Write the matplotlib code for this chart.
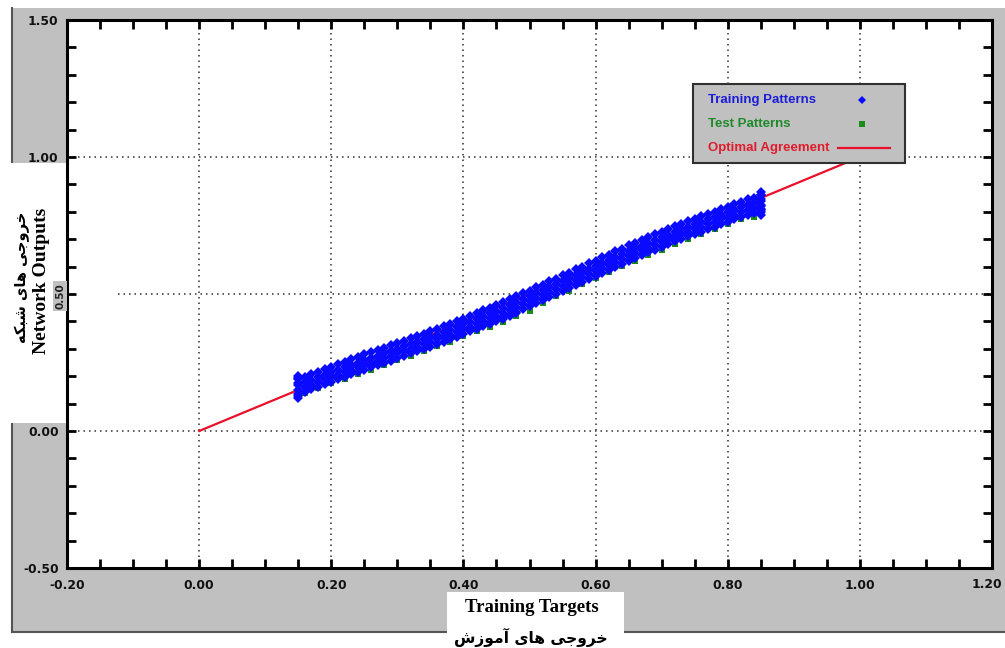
import matplotlib
matplotlib.use('Agg')
import matplotlib.pyplot as plt
from matplotlib.patches import Rectangle
from matplotlib.lines import Line2D
from matplotlib.ticker import MultipleLocator, FixedLocator

# ---------------- data ----------------
train_targets = [0.15, 0.16, 0.17, 0.18, 0.19, 0.20, 0.21, 0.22, 0.23, 0.24,
                 0.25, 0.26, 0.27, 0.28, 0.29, 0.30, 0.31, 0.32, 0.33, 0.34,
                 0.35, 0.36, 0.37, 0.38, 0.39, 0.40, 0.41, 0.42, 0.43, 0.44,
                 0.45, 0.46, 0.47, 0.48, 0.49, 0.50, 0.51, 0.52, 0.53, 0.54,
                 0.55, 0.56, 0.57, 0.58, 0.59, 0.60, 0.61, 0.62, 0.63, 0.64,
                 0.65, 0.66, 0.67, 0.68, 0.69, 0.70, 0.71, 0.72, 0.73, 0.74,
                 0.75, 0.76, 0.77, 0.78, 0.79, 0.80, 0.81, 0.82, 0.83, 0.84,
                 0.85]
train_out_low = [0.134, 0.143, 0.152, 0.162, 0.171, 0.180, 0.189, 0.198, 0.207, 0.215,
                 0.224, 0.232, 0.240, 0.249, 0.257, 0.266, 0.274, 0.283, 0.291, 0.300,
                 0.308, 0.317, 0.326, 0.335, 0.344, 0.354, 0.364, 0.374, 0.384, 0.394,
                 0.404, 0.415, 0.425, 0.436, 0.446, 0.457, 0.468, 0.479, 0.490, 0.501,
                 0.512, 0.523, 0.534, 0.545, 0.556, 0.567, 0.578, 0.589, 0.600, 0.611,
                 0.622, 0.632, 0.642, 0.652, 0.662, 0.672, 0.682, 0.692, 0.701, 0.710,
                 0.719, 0.728, 0.737, 0.746, 0.755, 0.764, 0.773, 0.781, 0.789, 0.797,
                 0.805]
train_out_midlow = [0.151, 0.160, 0.169, 0.179, 0.188, 0.197, 0.206, 0.215, 0.224, 0.232,
                    0.241, 0.249, 0.257, 0.266, 0.274, 0.283, 0.291, 0.300, 0.308, 0.317,
                    0.325, 0.334, 0.343, 0.352, 0.361, 0.371, 0.381, 0.391, 0.401, 0.411,
                    0.421, 0.432, 0.442, 0.453, 0.463, 0.474, 0.485, 0.496, 0.507, 0.518,
                    0.529, 0.540, 0.551, 0.562, 0.573, 0.584, 0.595, 0.606, 0.617, 0.628,
                    0.639, 0.649, 0.659, 0.669, 0.679, 0.689, 0.699, 0.709, 0.718, 0.727,
                    0.736, 0.745, 0.754, 0.763, 0.772, 0.781, 0.790, 0.798, 0.806, 0.814,
                    0.822]
train_out_midhigh = [0.169, 0.178, 0.187, 0.197, 0.206, 0.215, 0.224, 0.233, 0.242, 0.250,
                     0.259, 0.267, 0.275, 0.284, 0.292, 0.301, 0.309, 0.318, 0.326, 0.335,
                     0.343, 0.352, 0.361, 0.370, 0.379, 0.389, 0.399, 0.409, 0.419, 0.429,
                     0.439, 0.450, 0.460, 0.471, 0.481, 0.492, 0.503, 0.514, 0.525, 0.536,
                     0.547, 0.558, 0.569, 0.580, 0.591, 0.602, 0.613, 0.624, 0.635, 0.646,
                     0.657, 0.667, 0.677, 0.687, 0.697, 0.707, 0.717, 0.727, 0.736, 0.745,
                     0.754, 0.763, 0.772, 0.781, 0.790, 0.799, 0.808, 0.816, 0.824, 0.832,
                     0.840]
train_out_high = [0.190, 0.198, 0.208, 0.217, 0.227, 0.235, 0.245, 0.253, 0.263, 0.270,
                  0.280, 0.287, 0.296, 0.304, 0.313, 0.321, 0.330, 0.338, 0.347, 0.355,
                  0.364, 0.372, 0.382, 0.390, 0.400, 0.409, 0.420, 0.429, 0.440, 0.449,
                  0.460, 0.470, 0.481, 0.491, 0.502, 0.512, 0.524, 0.534, 0.546, 0.556,
                  0.568, 0.578, 0.590, 0.600, 0.612, 0.622, 0.634, 0.644, 0.656, 0.666,
                  0.678, 0.687, 0.698, 0.707, 0.718, 0.727, 0.738, 0.747, 0.757, 0.765,
                  0.775, 0.783, 0.793, 0.801, 0.811, 0.819, 0.829, 0.836, 0.845, 0.852,
                  0.861]
extra_train_targets = [0.15, 0.15, 0.15, 0.15, 0.15,
                       0.85, 0.85, 0.85, 0.85, 0.85, 0.85, 0.85,
                       0.44, 0.45, 0.46, 0.47, 0.48]
extra_train_outputs = [0.122, 0.128, 0.176, 0.192, 0.200,
                       0.790, 0.798, 0.812, 0.826, 0.848, 0.862, 0.872,
                       0.392, 0.400, 0.410, 0.420, 0.430]

test_targets = [0.16, 0.18, 0.20, 0.22, 0.24, 0.26, 0.28, 0.30, 0.32, 0.34,
                0.36, 0.38, 0.40, 0.42, 0.44, 0.46, 0.48, 0.50, 0.52, 0.54,
                0.56, 0.58, 0.60, 0.62, 0.64, 0.66, 0.68, 0.70, 0.72, 0.74,
                0.76, 0.78, 0.80, 0.82, 0.84]
test_outputs = [0.138, 0.156, 0.174, 0.191, 0.208, 0.224, 0.241, 0.258, 0.275, 0.292,
                0.309, 0.326, 0.345, 0.364, 0.380, 0.398, 0.418, 0.438, 0.468, 0.492,
                0.512, 0.537, 0.560, 0.582, 0.602, 0.622, 0.642, 0.662, 0.682, 0.700,
                0.718, 0.736, 0.754, 0.772, 0.782]

optimal_x = [0.0, 1.0]
optimal_y = [0.0, 1.0]

x_tick_values = [-0.2, 0.0, 0.2, 0.4, 0.6, 0.8, 1.0, 1.2]
x_tick_labels = ['-0.20', '0.00', '0.20', '0.40', '0.60', '0.80', '1.00', '1.20']
y_tick_values = [-0.5, 0.0, 0.5, 1.0, 1.5]
y_tick_labels = ['-0.50', '0.00', '0.50', '1.00', '1.50']
legend_labels = ['Training Patterns', 'Test Patterns', 'Optimal Agreement']
legend_colors = ['#1c1cd8', '#1f8a2a', '#e01c2c']

# Persian labels (presentation forms, visual order)
xlabel_fa = '\ufeb5\ufeaf\ufeee\ufee3\ufe81 \ufbfc\ufe8e\ufeeb \ufbfd\ufe9f\ufeed\ufeae\ufea7'
ylabel_fa = '\ufeea\ufb91\ufe92\ufeb7 \ufbfc\ufe8e\ufeeb \ufbfd\ufe9f\ufeed\ufeae\ufea7'

# ---------------- figure ----------------
W, H = 1005, 648
fig = plt.figure(figsize=(W / 100, H / 100), dpi=100)
fig.patch.set_facecolor('white')


def fx(px):
    return px / W


def fy(py):
    return 1 - py / H


GRAY = '#c0c0c0'
TICK_FONT = dict(fontfamily='DejaVu Sans', fontweight='bold', fontsize=8.8, color='#111111')

fig.patches.append(Rectangle((fx(12), fy(632)), fx(1005) - fx(12), fy(8) - fy(632),
                             transform=fig.transFigure, facecolor=GRAY,
                             edgecolor='none', zorder=-3))
fig.lines.append(Line2D([fx(12), fx(12)], [fy(632), fy(8)], transform=fig.transFigure,
                        color='#555555', lw=1.5, zorder=-2))
fig.lines.append(Line2D([fx(12), fx(1005)], [fy(632), fy(632)], transform=fig.transFigure,
                        color='#555555', lw=1.5, zorder=-2))
# white label boxes
fig.patches.append(Rectangle((0, fy(423)), fx(66), fy(163) - fy(423),
                             transform=fig.transFigure, facecolor='white',
                             edgecolor='none', zorder=-1))
fig.patches.append(Rectangle((fx(447), 0), fx(624) - fx(447), fy(592),
                             transform=fig.transFigure, facecolor='white',
                             edgecolor='none', zorder=-1))

ax = fig.add_axes([fx(67), fy(568), fx(992) - fx(67), fy(20) - fy(568)])
ax.set_zorder(1)
ax.set_facecolor('white')
ax.set_xlim(-0.2, 1.2)
ax.set_ylim(-0.5, 1.5)

# grid (dotted)
grid_kw = dict(color='#303030', lw=1.1, linestyle=(0, (1, 2.6)), zorder=1)
for gx in [0.0, 0.2, 0.4, 0.6, 0.8, 1.0]:
    ax.axvline(gx, **grid_kw)
ax.axhline(1.0, **grid_kw)
ax.axhline(0.0, **grid_kw)
ax.axhline(0.5, xmin=(118 - 67) / 925, **grid_kw)

# optimal line
line_opt, = ax.plot(optimal_x, optimal_y, color='#e8102a', lw=1.6, zorder=2)

# test patterns (beneath)
test_art, = ax.plot(test_targets, test_outputs, ls='none', marker='s', ms=4.4,
                    mew=0, color='#1a8c1a', zorder=3)

# training patterns
tr_kw = dict(ls='none', marker='D', ms=5.0, mew=0, color='#0a0aff', zorder=4)
train_art, = ax.plot(train_targets, train_out_low, **tr_kw)
ax.plot(train_targets, train_out_midlow, **tr_kw)
ax.plot(train_targets, train_out_midhigh, **tr_kw)
ax.plot(train_targets, train_out_high, **tr_kw)
ax.plot(extra_train_targets, extra_train_outputs, **tr_kw)

# ticks (the last x label and the 0.50 y label are drawn separately below)
ax.xaxis.set_major_locator(FixedLocator(x_tick_values))
ax.xaxis.set_minor_locator(MultipleLocator(0.05))
ax.yaxis.set_major_locator(FixedLocator(y_tick_values))
ax.yaxis.set_minor_locator(MultipleLocator(0.1))
ax.set_xticklabels(x_tick_labels[:-1] + [''])
ax.set_yticklabels([lab if v != 0.5 else '' for v, lab in zip(y_tick_values, y_tick_labels)])
ax.tick_params(which='both', direction='in', length=6.5, width=2.0, color='black',
               top=True, right=True)
ax.tick_params(axis='x', which='major', pad=8)
ax.tick_params(axis='y', which='major', pad=6)
for lab in ax.get_xticklabels() + ax.get_yticklabels():
    lab.set_fontfamily(TICK_FONT['fontfamily'])
    lab.set_fontweight(TICK_FONT['fontweight'])
    lab.set_fontsize(TICK_FONT['fontsize'])
    lab.set_color(TICK_FONT['color'])
for sp in ax.spines.values():
    sp.set_linewidth(2.2)
    sp.set_color('black')
    sp.set_zorder(6)

# last x tick label, nudged inside the figure edge
fig.text(fx(987), fy(584), x_tick_labels[-1], ha='center', va='center', zorder=5,
         **TICK_FONT)

# rotated 0.50 label with gray background
fig.text(fx(60), fy(296), y_tick_labels[2], rotation=90, ha='center', va='center',
         fontfamily='DejaVu Sans', fontweight='bold', fontsize=7.5, color='#222222',
         bbox=dict(facecolor=GRAY, edgecolor='none', pad=1.2), zorder=5)

# axis labels
fig.text(fx(42), fy(281), 'Network Outputs', rotation=90, ha='center', va='center',
         fontfamily='Liberation Serif', fontweight='bold', fontsize=14, zorder=5)
fig.text(fx(22), fy(277), ylabel_fa, rotation=90, ha='center', va='center',
         fontfamily=['DejaVu Sans'], fontweight='bold', fontsize=10.5, zorder=5)
fig.text(fx(532), fy(607), 'Training Targets', ha='center', va='center',
         fontfamily='Liberation Serif', fontweight='bold', fontsize=13.5, zorder=5)
fig.text(fx(531), fy(637), xlabel_fa, ha='center', va='center',
         fontfamily=['DejaVu Sans'], fontweight='bold', fontsize=11.2, zorder=5)

# legend (text left, symbol right)
fig.patches.append(Rectangle((fx(693), fy(163)), fx(905) - fx(693), fy(84) - fy(163),
                             transform=fig.transFigure, facecolor=GRAY,
                             edgecolor='#303030', lw=1.5, zorder=8))
leg_rows_y = [100, 124, 148]
for lbl, col, ry in zip(legend_labels, legend_colors, leg_rows_y):
    fig.text(fx(708), fy(ry), lbl, ha='left', va='center', color=col,
             fontfamily='Liberation Sans', fontweight='bold', fontsize=9.5, zorder=9)
fig.lines.append(Line2D([fx(862)], [fy(leg_rows_y[0])], transform=fig.transFigure,
                        ls='none', marker=train_art.get_marker(), ms=4.2, mew=0,
                        color=train_art.get_color(), zorder=9))
fig.lines.append(Line2D([fx(862)], [fy(leg_rows_y[1])], transform=fig.transFigure,
                        ls='none', marker=test_art.get_marker(), ms=4.2, mew=0,
                        color=test_art.get_color(), zorder=9))
fig.lines.append(Line2D([fx(838), fx(890)], [fy(leg_rows_y[2]), fy(leg_rows_y[2])],
                        transform=fig.transFigure, color=line_opt.get_color(),
                        lw=1.6, zorder=9))

fig.savefig('out.png', dpi=100, facecolor=fig.get_facecolor())
